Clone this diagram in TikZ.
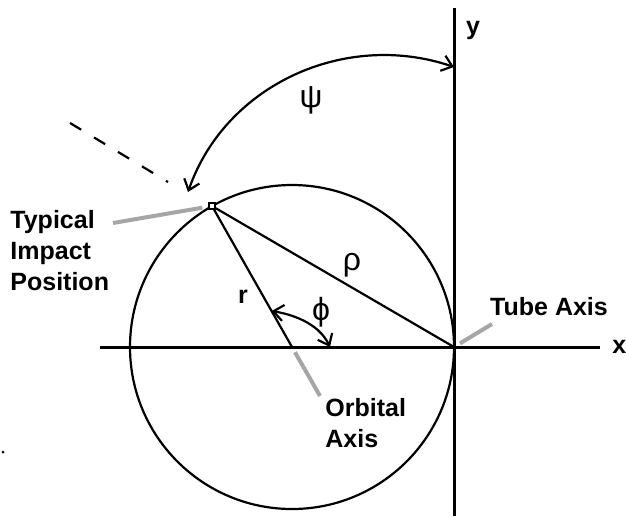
\documentclass[tikz,border=0pt]{standalone}
\usepackage{fontspec}
\setmainfont{Liberation Sans}
\usetikzlibrary{arrows.meta,positioning,calc}

\begin{document}
\begin{tikzpicture}[x=0.5pt, y=-0.5pt, >={Straight Barb[length=5pt,width=8pt]}]
  \tikzstyle{lbl}=[font=\fontsize{12.5}{15.5}\selectfont\bfseries, inner sep=0pt, align=left]
  \tikzstyle{greek}=[font=\fontsize{16}{18}\selectfont, inner sep=0pt]
  \tikzstyle{leader}=[draw=gray!70, line width=2pt]
  \tikzstyle{axis}=[line width=1.5pt]
  \tikzstyle{geo}=[line width=1.1pt]
  \useasboundingbox (0,0) rectangle (626,516);
  % axes
  \coordinate (O) at (292,347);
  \coordinate (T) at (454,347);
  \coordinate (xL) at (100,347);
  \coordinate (xR) at (600,347);
  \coordinate (yT) at (454,8);
  \coordinate (yB) at (454,516);
  \draw[axis] (xL) -- (xR);
  \draw[axis] (yT) -- (yB);
  \node[lbl, right=6pt of xR] (xlab) {x};
  \node[lbl] (ylab) at (473,30) {y};
  % orbit and impact point
  \draw[geo] (O) circle[radius=162];
  \node[draw, fill=white, line width=0.8pt, minimum size=3pt, inner sep=0pt] (P) at (212,206) {};
  \draw[geo] (P) -- (O);
  \draw[geo] (P) -- (T);
  \node[lbl] (r) at (243,297) {r};
  \node[greek] (rho) at (352,265) {ρ};
  % angles
  \coordinate (phiA) at ($(P)!0.745!(O)$);
  \coordinate (phiB) at (330,347);
  \draw[geo, <->] (phiA) .. controls (290,314) and (318,322) .. (phiB);
  \node[greek] (phi) at (321,312) {ϕ};
  \coordinate (psiA) at (188,192);
  \coordinate (psiB) at (454,67);
  \draw[geo, <->] (psiA) .. controls (225,85) and (345,30) .. (psiB);
  \node[greek] (psi) at (311,100) {ψ};
  % incoming direction
  \coordinate (dA) at (70,123);
  \coordinate (dB) at (168,182);
  \draw[geo, dash pattern=on 6.5pt off 7.5pt] (dA) -- (dB);
  % labels with leaders
  \node[lbl, anchor=west] (impact) at (10,251) {Typical\\Impact\\Position};
  \coordinate (impL) at (113,223);
  \draw[leader, shorten >=3pt] (impL) -- (P);
  \node[lbl] (tube) at (549,307) {Tube Axis};
  \coordinate (tubeL) at (492,324);
  \draw[leader, shorten <=3.5pt] (T) -- (tubeL);
  \node[lbl, anchor=west] (orbit) at (325,423) {Orbital\\Axis};
  \coordinate (orbL) at (320,396);
  \draw[leader, shorten <=3pt] (O) -- (orbL);
  \fill (3,452) circle[radius=1.5];
\end{tikzpicture}
\end{document}
